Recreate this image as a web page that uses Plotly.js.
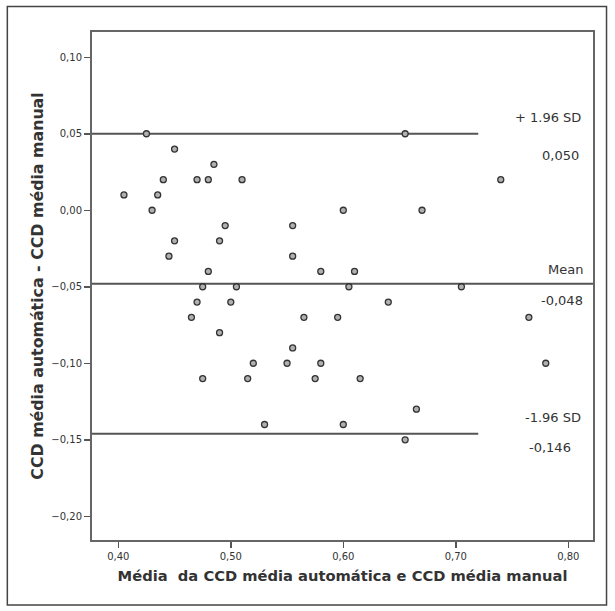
<!DOCTYPE html>
<html>
<head>
<meta charset="utf-8">
<script src="https://cdn.plot.ly/plotly-3.0.1.min.js"></script>
<style>
  html, body { margin: 0; padding: 0; background: #ffffff; }
  #chart { width: 615px; height: 611px; }
</style>
</head>
<body>
<div id="chart"></div>
<script>
// Mean of the two methods (x) and difference (y)
const meanValues = [
  0.425, 0.45, 0.485, 0.44, 0.47, 0.48, 0.51, 0.405, 0.435, 0.43,
  0.495, 0.555, 0.45, 0.49, 0.655, 0.74, 0.60, 0.67, 0.445, 0.555,
  0.48, 0.475, 0.505, 0.47, 0.50, 0.465, 0.49, 0.555, 0.52, 0.55,
  0.475, 0.515, 0.53, 0.58, 0.61, 0.605, 0.705, 0.64, 0.565, 0.595,
  0.765, 0.58, 0.575, 0.615, 0.665, 0.60, 0.655, 0.78
];
const diffValues = [
  0.05, 0.04, 0.03, 0.02, 0.02, 0.02, 0.02, 0.01, 0.01, 0.00,
  -0.01, -0.01, -0.02, -0.02, 0.05, 0.02, 0.00, 0.00, -0.03, -0.03,
  -0.04, -0.05, -0.05, -0.06, -0.06, -0.07, -0.08, -0.09, -0.10, -0.10,
  -0.11, -0.11, -0.14, -0.04, -0.04, -0.05, -0.05, -0.06, -0.07, -0.07,
  -0.07, -0.10, -0.11, -0.11, -0.13, -0.14, -0.15, -0.10
];

// Bland-Altman reference lines
const lineNames = ["+ 1.96 SD", "Mean", "-1.96 SD"];
const lineValues = [0.050, -0.048, -0.146];
const lineLabels = ["0,050", "-0,048", "-0,146"];
const lineXEnd = [0.72, 0.822, 0.72];

const xRange = [0.3766, 0.822];
const yRange = [-0.2155, 0.1165];
const xTicks = [0.40, 0.50, 0.60, 0.70, 0.80];
const yTicks = [0.10, 0.05, 0.00, -0.05, -0.10, -0.15, -0.20];

const traces = [];
lineValues.forEach((v, i) => {
  traces.push({
    type: 'scatter', mode: 'lines',
    x: [xRange[0], lineXEnd[i]], y: [v, v],
    line: { color: '#555555', width: 2 },
    hoverinfo: 'skip', showlegend: false
  });
});
traces.push({
  type: 'scatter', mode: 'markers',
  x: meanValues, y: diffValues,
  marker: { symbol: 'circle', size: 6, color: '#b0b0b0', line: { color: '#333333', width: 1.3 } },
  showlegend: false
});

const annFont = { family: 'DejaVu Sans, sans-serif', size: 13, color: '#333333' };
const annotations = [];
const nameOffsets = [16, 14, 16];
const valOffsets = [-22, -17, -14];
const nameX = [0.98, 0.985, 0.98];
const valX = [0.976, 0.985, 0.96];
lineValues.forEach((v, i) => {
  annotations.push({
    xref: 'paper', yref: 'y', x: nameX[i], y: v, xanchor: 'right', yanchor: 'middle',
    yshift: nameOffsets[i], text: lineNames[i], showarrow: false, font: annFont
  });
  annotations.push({
    xref: 'paper', yref: 'y', x: valX[i], y: v, xanchor: 'right', yanchor: 'middle',
    yshift: valOffsets[i], text: lineLabels[i], showarrow: false, font: annFont
  });
});

const layout = {
  width: 615, height: 611,
  margin: { l: 92, r: 22, t: 32, b: 71 },
  paper_bgcolor: '#ffffff', plot_bgcolor: '#ffffff',
  separators: ',.',
  showlegend: false,
  xaxis: {
    range: xRange, tickvals: xTicks, tickformat: '.2f',
    ticks: 'outside', ticklen: 6, tickwidth: 1.5, tickcolor: '#555555',
    showgrid: false, zeroline: false,
    showline: true, linecolor: '#666666', linewidth: 2, mirror: true,
    tickfont: { family: 'DejaVu Sans, sans-serif', size: 10, color: '#333333' },
    title: { text: '<b>Média  da CCD média automática e CCD média manual</b>', standoff: 10,
             font: { family: 'DejaVu Sans, sans-serif', size: 14.7, color: '#333333' } }
  },
  yaxis: {
    range: yRange, tickvals: yTicks, tickformat: '.2f',
    ticks: 'outside', ticklen: 6, tickwidth: 1.5, tickcolor: '#555555',
    showgrid: false, zeroline: false,
    showline: true, linecolor: '#666666', linewidth: 2, mirror: true,
    tickfont: { family: 'DejaVu Sans, sans-serif', size: 10, color: '#333333' },
    title: { text: '<b>CCD média automática - CCD média manual</b>', standoff: 4,
             font: { family: 'DejaVu Sans, sans-serif', size: 15.8, color: '#333333' } }
  },
  annotations: annotations,
  shapes: [{
    type: 'rect', xref: 'paper', yref: 'paper',
    x0: -0.169, x1: 1.027, y0: -0.128, y1: 1.050,
    line: { color: '#444444', width: 1.5 }, fillcolor: 'rgba(0,0,0,0)', layer: 'below'
  }]
};

Plotly.newPlot('chart', traces, layout, { displayModeBar: false, staticPlot: true });
</script>
</body>
</html>
